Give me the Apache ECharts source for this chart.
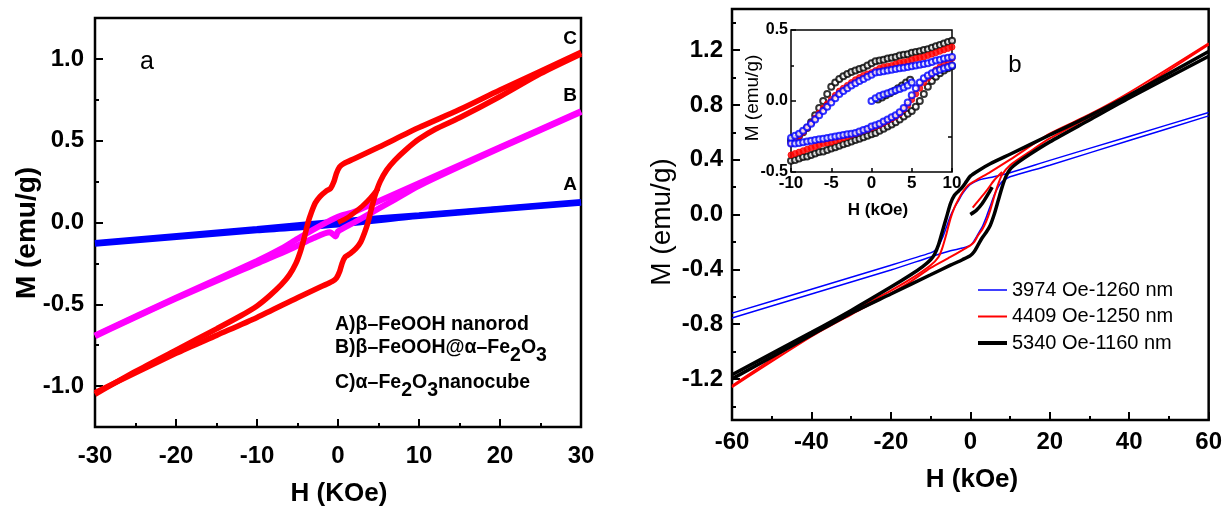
<!DOCTYPE html>
<html>
<head>
<meta charset="utf-8">
<script src="https://cdn.jsdelivr.net/npm/echarts@6.0.0/dist/echarts.min.js"></script>
<style>
html, body { margin: 0; padding: 0; background: #fff; }
#chart { width: 1225px; height: 510px; }
</style>
</head>
<body>
<div id="chart"></div>
<script>
/*######## panel a : hysteresis loops (H in kOe, M in emu/g) ########*/
var aBlueUp = [[30, 0.125], [10, 0.045], [0, 0.006], [-10, -0.04], [-30, -0.125]];
var aBlueDown = [[-30, -0.13], [-10, -0.048], [0, -0.012], [10, 0.04], [30, 0.12]];

var aPinkUp = [[30, 0.68], [20, 0.46], [10, 0.24], [5, 0.13], [2, 0.065], [0, 0.035], [-2, -0.015],
  [-5, -0.1], [-7, -0.16], [-10, -0.235], [-20, -0.46], [-30, -0.69]];
var aPinkDown = [[-30, -0.695], [-20, -0.465], [-10, -0.25], [-6, -0.165], [-3, -0.095], [-1, -0.06],
  [-0.3, -0.085], [0, -0.055], [2, 0.0], [5, 0.085], [7, 0.14], [10, 0.225], [20, 0.455], [30, 0.675]];

var aRedUp = [[30, 1.04], [20, 0.81], [15, 0.69], [10, 0.58], [5, 0.46], [2, 0.39], [0.7, 0.36], [0.2, 0.34],
  [-0.2, 0.30], [-0.5, 0.25], [-0.9, 0.21], [-1.5, 0.19], [-2.2, 0.16], [-2.8, 0.12], [-3.3, 0.06],
  [-3.7, 0.0], [-4.1, -0.08], [-4.6, -0.17], [-5.2, -0.25], [-6, -0.32], [-7, -0.38], [-8.5, -0.45],
  [-10, -0.51], [-12, -0.57], [-15, -0.65], [-20, -0.78], [-25, -0.91], [-30, -1.05]];
var aRedDown = [[-30, -1.04], [-20, -0.80], [-15, -0.69], [-10, -0.58], [-5, -0.46], [-2, -0.39], [-0.7, -0.36],
  [-0.2, -0.34], [0.2, -0.30], [0.5, -0.25], [0.9, -0.21], [1.5, -0.19], [2.2, -0.16], [2.8, -0.12],
  [3.3, -0.06], [3.7, 0.0], [4.1, 0.08], [4.6, 0.17], [5.2, 0.25], [6, 0.32], [7, 0.38], [8.5, 0.45],
  [10, 0.51], [12, 0.57], [15, 0.64], [20, 0.77], [25, 0.91], [30, 1.03]];
var aRedVirgin = [[0, 0], [1, 0.025], [2, 0.06], [3, 0.1], [4, 0.15], [5, 0.21]];

/*######## panel b : main loops ########*/
var bBlueUp = [[60, 0.745], [40, 0.57], [20, 0.395], [10, 0.305], [5, 0.27], [2, 0.25], [0, 0.22], [-1, 0.19],
  [-2, 0.15], [-3, 0.1], [-4, 0.05], [-5, -0.01], [-6, -0.09], [-7, -0.17], [-8, -0.23], [-9, -0.265],
  [-10, -0.28], [-20, -0.37], [-40, -0.545], [-60, -0.72]];
var bBlueDown = [[-60, -0.755], [-40, -0.58], [-20, -0.405], [-10, -0.31], [-5, -0.265], [-2, -0.245],
  [0, -0.225], [1, -0.19], [2, -0.14], [3, -0.09], [4, -0.02], [5, 0.06], [6, 0.14], [7, 0.2], [8, 0.24],
  [9, 0.26], [10, 0.275], [20, 0.36], [40, 0.54], [60, 0.72]];

var bRedUp = [[60, 1.25], [40, 0.89], [30, 0.73], [20, 0.59], [10, 0.40], [5, 0.31], [2, 0.26], [0, 0.225],
  [-1, 0.2], [-2, 0.16], [-3, 0.11], [-4, 0.05], [-5, -0.03], [-6, -0.14], [-7, -0.24], [-8, -0.31],
  [-10, -0.37], [-15, -0.47], [-20, -0.555], [-30, -0.71], [-40, -0.87], [-60, -1.25]];
var bRedDown = [[-60, -1.26], [-40, -0.89], [-30, -0.73], [-20, -0.575], [-15, -0.49], [-10, -0.39],
  [-5, -0.31], [-2, -0.26], [0, -0.225], [1, -0.2], [2, -0.15], [3, -0.11], [4, -0.05], [5, 0.03],
  [6, 0.13], [7, 0.22], [8, 0.29], [10, 0.36], [15, 0.46], [20, 0.555], [30, 0.71], [40, 0.87], [60, 1.24]];
var bRedVirgin = [[0.6, 0.05], [2, 0.1], [4, 0.17], [6, 0.25], [8, 0.31]];

var bBlackUp = [[60, 1.19], [40, 0.87], [30, 0.72], [20, 0.58], [10, 0.44], [5, 0.37], [2, 0.32], [0, 0.28],
  [-1, 0.24], [-2, 0.2], [-3, 0.17], [-4, 0.14], [-5, 0.08], [-6, -0.02], [-7, -0.12], [-8, -0.22],
  [-9, -0.29], [-10, -0.33], [-12, -0.38], [-15, -0.44], [-20, -0.53], [-30, -0.7], [-40, -0.86], [-60, -1.17]];
var bBlackDown = [[-60, -1.2], [-40, -0.88], [-30, -0.72], [-20, -0.58], [-10, -0.44], [-5, -0.37],
  [-2, -0.33], [0, -0.3], [1, -0.27], [2, -0.22], [3, -0.17], [4, -0.13], [5, -0.08], [6, 0.0], [7, 0.1],
  [8, 0.2], [9, 0.28], [10, 0.33], [12, 0.38], [15, 0.44], [20, 0.53], [30, 0.69], [40, 0.85], [60, 1.155]];
var bBlackVirgin = [[0, 0], [1.5, 0.03], [3, 0.08], [4.5, 0.15], [5.5, 0.2]];

/*######## inset : low-field loops (open circles) ########*/
var inH = [-10, -9.5, -9, -8.5, -8, -7.5, -7, -6.5, -6, -5.5, -5, -4.5, -4, -3.5, -3, -2.5, -2, -1.5, -1, -0.5,
  0, 0.5, 1, 1.5, 2, 2.5, 3, 3.5, 4, 4.5, 5, 5.5, 6, 6.5, 7, 7.5, 8, 8.5, 9, 9.5, 10];
var inBlackUp = [-0.28, -0.265, -0.245, -0.22, -0.19, -0.15, -0.1, -0.05, 0.0, 0.05, 0.1, 0.13, 0.155, 0.175,
  0.19, 0.205, 0.215, 0.225, 0.235, 0.25, 0.265, 0.28, 0.285, 0.29, 0.3, 0.305, 0.31, 0.32, 0.325, 0.33,
  0.34, 0.345, 0.35, 0.36, 0.365, 0.375, 0.385, 0.395, 0.405, 0.415, 0.425];
var inBlackDown = [-0.42, -0.415, -0.405, -0.395, -0.39, -0.38, -0.37, -0.36, -0.355, -0.345, -0.335, -0.325,
  -0.315, -0.305, -0.295, -0.285, -0.275, -0.265, -0.255, -0.245, -0.235, -0.225, -0.21, -0.195, -0.18,
  -0.165, -0.15, -0.13, -0.11, -0.09, -0.07, -0.04, 0.0, 0.05, 0.1, 0.14, 0.17, 0.195, 0.215, 0.23, 0.245];
var inRedUp = [-0.30, -0.275, -0.25, -0.22, -0.19, -0.155, -0.12, -0.085, -0.05, -0.02, 0.01, 0.04, 0.07, 0.09,
  0.11, 0.13, 0.15, 0.165, 0.18, 0.19, 0.2, 0.215, 0.23, 0.24, 0.245, 0.25, 0.26, 0.27, 0.275, 0.28, 0.29,
  0.3, 0.305, 0.31, 0.32, 0.33, 0.34, 0.35, 0.36, 0.37, 0.38];
var inRedDown = [-0.38, -0.37, -0.36, -0.35, -0.34, -0.33, -0.32, -0.31, -0.3, -0.295, -0.29, -0.28, -0.27,
  -0.26, -0.25, -0.24, -0.23, -0.22, -0.21, -0.2, -0.19, -0.18, -0.17, -0.155, -0.14, -0.125, -0.11, -0.09,
  -0.06, -0.03, 0.01, 0.05, 0.09, 0.13, 0.16, 0.19, 0.22, 0.24, 0.26, 0.28, 0.3];
var inBlueUp = [-0.26, -0.245, -0.23, -0.21, -0.185, -0.16, -0.13, -0.1, -0.07, -0.04, -0.01, 0.02, 0.05, 0.07,
  0.09, 0.11, 0.125, 0.14, 0.155, 0.17, 0.185, 0.2, 0.205, 0.21, 0.215, 0.22, 0.225, 0.23, 0.235, 0.24,
  0.245, 0.25, 0.255, 0.26, 0.265, 0.275, 0.285, 0.29, 0.3, 0.305, 0.31];
var inBlueDown = [-0.3, -0.3, -0.295, -0.29, -0.285, -0.28, -0.275, -0.27, -0.265, -0.26, -0.255, -0.25, -0.245,
  -0.24, -0.235, -0.23, -0.225, -0.215, -0.205, -0.195, -0.18, -0.17, -0.16, -0.145, -0.13, -0.115, -0.1,
  -0.08, -0.05, -0.01, 0.04, 0.09, 0.13, 0.16, 0.18, 0.195, 0.21, 0.22, 0.23, 0.24, 0.25];
var inBlackVirgin = [[0.8, 0.01], [1.3, 0.025], [1.8, 0.04], [2.3, 0.055], [2.8, 0.07], [3.3, 0.09],
  [3.8, 0.11], [4.3, 0.13], [4.8, 0.15]];
var inBlueVirgin = [[0, 0.0], [0.5, 0.02], [1, 0.035], [1.5, 0.045], [2, 0.055], [2.5, 0.065], [3, 0.075],
  [3.5, 0.085], [4, 0.095], [4.5, 0.11], [5, 0.13]];

var bNames = ["3974 Oe-1260 nm", "4409 Oe-1250 nm", "5340 Oe-1160 nm"];
var bColors = ["#0000ff", "#ff0000", "#000000"];
var bWidths = [1.5, 2, 3.5];

/*######## helpers ########*/
var FONT = "Liberation Sans";
function pairs(hs, ms) {
  return hs.map(function (h, i) { return [h, ms[i]]; });
}
function loopLine(name, data, color, width, xi, yi) {
  return {
    name: name, type: "line", data: data, xAxisIndex: xi, yAxisIndex: yi,
    showSymbol: false, symbol: "none", smooth: 0.25,
    lineStyle: { color: color, width: width }, itemStyle: { color: color },
    silent: true
  };
}
function dots(name, data, color, filled) {
  return {
    name: name, type: "scatter", data: data, xAxisIndex: 2, yAxisIndex: 5,
    symbol: filled ? "circle" : "emptyCircle", symbolSize: 6,
    itemStyle: { color: color, borderColor: color, borderWidth: 1 },
    silent: true
  };
}
function numAxis(o) {
  var base = {
    type: "value", splitLine: { show: false },
    axisLine: { show: false, onZero: false },
    axisTick: { show: true, inside: true, length: 8, lineStyle: { color: "#000", width: 2 } },
    axisLabel: { color: "#000", fontFamily: FONT, fontWeight: "bold", fontSize: 24 }
  };
  for (var k in o) base[k] = o[k];
  return base;
}

// legend of panel b drawn as short line samples with text
var legendItems = [];
bNames.forEach(function (n, i) {
  var y = 290 + i * 26.5;
  legendItems.push({ type: "line", shape: { x1: 978, y1: y, x2: 1007, y2: y }, style: { stroke: bColors[i], lineWidth: i === 2 ? 4 : bWidths[i] } });
  legendItems.push({ type: "text", x: 1012, y: y, style: { text: n, font: "20px " + FONT, fill: "#000", verticalAlign: "middle" } });
});

var dom = document.getElementById("chart");
var myChart = echarts.init(dom, null, { renderer: "canvas" });

var option = {
  animation: false,
  backgroundColor: "#fff",
  grid: [
    { left: 95, top: 18, width: 486, height: 409, show: true, borderColor: "#000", borderWidth: 2.5, backgroundColor: "transparent" },
    { left: 732, top: 9, width: 478, height: 411, show: true, borderColor: "#000", borderWidth: 2.5, backgroundColor: "transparent" },
    { left: 791, top: 30, width: 161, height: 142, show: true, borderColor: "#000", borderWidth: 1.5, backgroundColor: "#fff" }
  ],
  xAxis: [
    numAxis({
      gridIndex: 0, min: -30, max: 30, interval: 10, position: "bottom",
      minorTick: { show: true, splitNumber: 2, length: 4, lineStyle: { color: "#000", width: 2 } },
      axisLabel: { color: "#000", fontFamily: FONT, fontWeight: "bold", fontSize: 24, margin: 17 }
    }),
    numAxis({
      gridIndex: 1, min: -60, max: 60, interval: 20, position: "bottom",
      minorTick: { show: true, splitNumber: 2, length: 4, lineStyle: { color: "#000", width: 2 } },
      axisLabel: { color: "#000", fontFamily: FONT, fontWeight: "bold", fontSize: 24, margin: 10 }
    }),
    numAxis({
      gridIndex: 2, min: -10, max: 10, interval: 5, position: "bottom",
      axisTick: { show: true, inside: true, length: 4, lineStyle: { color: "#000", width: 1.5 } },
      axisLabel: { color: "#000", fontFamily: FONT, fontWeight: "bold", fontSize: 17, margin: 3 }
    })
  ],
  yAxis: [
    numAxis({
      gridIndex: 0, min: -1.25, max: 1.25, position: "left",
      axisTick: { show: true, inside: true, length: 8, customValues: [-1, -0.5, 0, 0.5, 1], lineStyle: { color: "#000", width: 2 } },
      axisLabel: {
        color: "#000", fontFamily: FONT, fontWeight: "bold", fontSize: 24, margin: 11,
        customValues: [-1, -0.5, 0, 0.5, 1], formatter: function (v) { return v.toFixed(1); }
      }
    }),
    numAxis({
      gridIndex: 0, min: -1.25, max: 1.25, position: "left",
      axisTick: { show: true, inside: true, length: 4, customValues: [-0.75, -0.25, 0.25, 0.75], lineStyle: { color: "#000", width: 2 } },
      axisLabel: { show: false }
    }),
    numAxis({
      gridIndex: 1, min: -1.5, max: 1.5, position: "left",
      axisTick: { show: true, inside: true, length: 8, customValues: [-1.2, -0.8, -0.4, 0, 0.4, 0.8, 1.2], lineStyle: { color: "#000", width: 2 } },
      axisLabel: {
        color: "#000", fontFamily: FONT, fontWeight: "bold", fontSize: 24, margin: 9,
        customValues: [-1.2, -0.8, -0.4, 0, 0.4, 0.8, 1.2], formatter: function (v) { return v.toFixed(1); }
      }
    }),
    numAxis({
      gridIndex: 1, min: -1.5, max: 1.5, position: "left",
      axisTick: { show: true, inside: true, length: 4, customValues: [-1.4, -1.0, -0.6, -0.2, 0.2, 0.6, 1.0, 1.4], lineStyle: { color: "#000", width: 2 } },
      axisLabel: { show: false }
    }),
    numAxis({
      gridIndex: 2, min: -0.5, max: 0.5, position: "right",
      axisTick: { show: true, inside: true, length: 4, customValues: [-0.25, 0.25], lineStyle: { color: "#000", width: 1.5 } },
      axisLabel: { show: false }
    }),
    numAxis({
      gridIndex: 2, min: -0.5, max: 0.5, interval: 0.5, position: "left",
      minorTick: { show: true, splitNumber: 2, length: 3, lineStyle: { color: "#000", width: 1.5 } },
      axisTick: { show: true, inside: true, length: 5, lineStyle: { color: "#000", width: 1.5 } },
      axisLabel: {
        color: "#000", fontFamily: FONT, fontWeight: "bold", fontSize: 16, margin: 3,
        formatter: function (v) { return v.toFixed(1); }
      }
    })
  ],
  series: [
    // panel a
    loopLine("A", aBlueUp, "#0000ff", 6, 0, 0),
    loopLine("A", aBlueDown, "#0000ff", 6, 0, 0),
    loopLine("B", aPinkUp, "#ff00ff", 6, 0, 0),
    loopLine("B", aPinkDown, "#ff00ff", 6, 0, 0),
    loopLine("C", aRedUp, "#ff0000", 5.5, 0, 0),
    loopLine("C", aRedDown, "#ff0000", 5.5, 0, 0),
    loopLine("C0", aRedVirgin, "#ff0000", 5, 0, 0),
    // panel b
    loopLine(bNames[0], bBlueUp, bColors[0], bWidths[0], 1, 2),
    loopLine(bNames[0], bBlueDown, bColors[0], bWidths[0], 1, 2),
    loopLine(bNames[1], bRedUp, bColors[1], bWidths[1], 1, 2),
    loopLine(bNames[1], bRedDown, bColors[1], bWidths[1], 1, 2),
    loopLine("r0", bRedVirgin, bColors[1], bWidths[1], 1, 2),
    loopLine(bNames[2], bBlackUp, bColors[2], bWidths[2], 1, 2),
    loopLine(bNames[2], bBlackDown, bColors[2], bWidths[2], 1, 2),
    loopLine("k0", bBlackVirgin, bColors[2], bWidths[2], 1, 2),
    // inset
    dots("ik", pairs(inH, inBlackUp), "#000000", false),
    dots("ik", pairs(inH, inBlackDown), "#000000", false),
    dots("ik", inBlackVirgin, "#000000", false),
    dots("ir", pairs(inH, inRedUp), "#ff0000", true),
    dots("ir", pairs(inH, inRedDown), "#ff0000", true),
    dots("ib", pairs(inH, inBlueUp), "#0000ff", false),
    dots("ib", pairs(inH, inBlueDown), "#0000ff", false),
    dots("ib", inBlueVirgin, "#0000ff", false)
  ],
  graphic: legendItems.concat([
    // axis titles
    { type: "text", x: 27, y: 233, rotation: Math.PI / 2, style: { text: "M (emu/g)", font: "bold 28px " + FONT, fill: "#000", align: "center", verticalAlign: "middle" } },
    { type: "text", x: 339, y: 494, style: { text: "H (KOe)", font: "bold 26px " + FONT, fill: "#000", align: "center", verticalAlign: "middle" } },
    { type: "text", x: 662, y: 222, rotation: Math.PI / 2, style: { text: "M (emu/g)", font: "28px " + FONT, fill: "#000", align: "center", verticalAlign: "middle" } },
    { type: "text", x: 972, y: 480, style: { text: "H (kOe)", font: "bold 26px " + FONT, fill: "#000", align: "center", verticalAlign: "middle" } },
    { type: "text", x: 753, y: 98, rotation: Math.PI / 2, z: 10, style: { text: "M (emu/g)", font: "19px " + FONT, fill: "#000", align: "center", verticalAlign: "middle" } },
    { type: "text", x: 878, y: 210, z: 10, style: { text: "H (kOe)", font: "bold 17px " + FONT, fill: "#000", align: "center", verticalAlign: "middle" } },
    // panel letters
    { type: "text", x: 147, y: 62, style: { text: "a", font: "25px " + FONT, fill: "#000", align: "center", verticalAlign: "middle" } },
    { type: "text", x: 1015, y: 65, style: { text: "b", font: "24px " + FONT, fill: "#000", align: "center", verticalAlign: "middle" } },
    // curve tags
    { type: "text", x: 570, y: 39, style: { text: "C", font: "bold 19px " + FONT, fill: "#000", align: "center", verticalAlign: "middle" } },
    { type: "text", x: 570, y: 96, style: { text: "B", font: "bold 19px " + FONT, fill: "#000", align: "center", verticalAlign: "middle" } },
    { type: "text", x: 570, y: 185, style: { text: "A", font: "bold 19px " + FONT, fill: "#000", align: "center", verticalAlign: "middle" } },
    // sample key, panel a
    {
      type: "text", x: 335, y: 325,
      style: { text: "A)β–FeOOH nanorod", font: "bold 19.5px " + FONT, fill: "#000", verticalAlign: "middle" }
    },
    {
      type: "text", x: 335, y: 352,
      style: {
        text: "{n|B)β–FeOOH@α–Fe}{s|2}{n|O}{s|3}", verticalAlign: "middle",
        rich: {
          n: { font: "bold 19.5px " + FONT, fill: "#000", verticalAlign: "top", lineHeight: 28 },
          s: { font: "bold 19.5px " + FONT, fill: "#000", verticalAlign: "top", lineHeight: 28, padding: [8, 0, 0, 0] }
        }
      }
    },
    {
      type: "text", x: 335, y: 387,
      style: {
        text: "{n|C)α–Fe}{s|2}{n|O}{s|3}{n|nanocube}", verticalAlign: "middle",
        rich: {
          n: { font: "bold 19.5px " + FONT, fill: "#000", verticalAlign: "top", lineHeight: 28 },
          s: { font: "bold 19.5px " + FONT, fill: "#000", verticalAlign: "top", lineHeight: 28, padding: [8, 0, 0, 0] }
        }
      }
    }
  ])
};

if (option && typeof option === "object") {
  myChart.setOption(option, true);
}
</script>
</body>
</html>
